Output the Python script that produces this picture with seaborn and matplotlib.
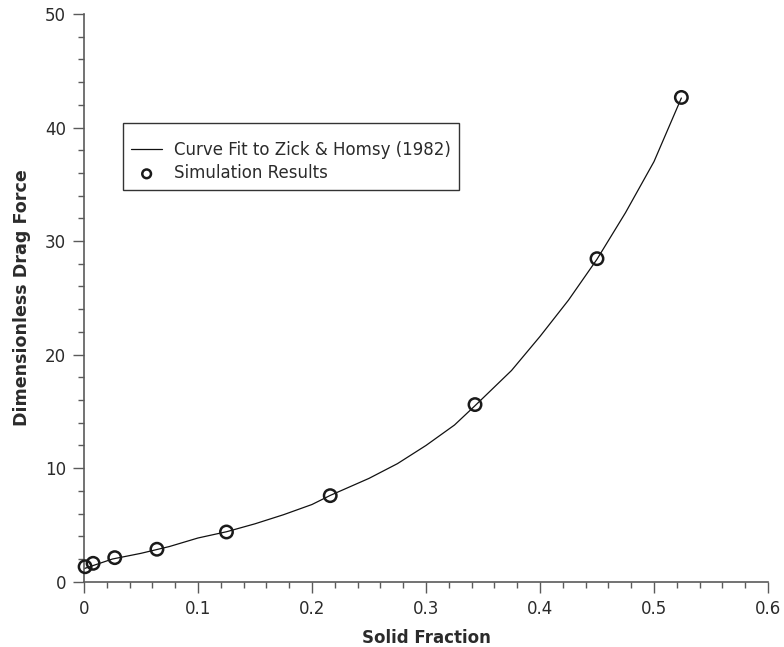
import matplotlib
matplotlib.use("Agg")
import matplotlib.pyplot as plt
from matplotlib.ticker import MultipleLocator
import seaborn as sns
import pandas as pd

# Simulated drag force on a simple cubic array of spheres
sim_fraction = [0.001, 0.008, 0.027, 0.064, 0.125, 0.216, 0.343, 0.45, 0.524]
sim_drag = [1.32, 1.62, 2.12, 2.86, 4.38, 7.58, 15.6, 28.45, 42.65]

# Curve fit to Zick & Homsy (1982), tabulated
fit_fraction = [0.0, 0.025, 0.05, 0.075, 0.1, 0.125, 0.15, 0.175, 0.2, 0.216,
                0.25, 0.275, 0.3, 0.325, 0.343, 0.375, 0.4, 0.425, 0.45,
                0.475, 0.5, 0.524]
fit_drag = [1.15, 2.0, 2.5, 3.1, 3.85, 4.4, 5.1, 5.9, 6.8, 7.6,
            9.1, 10.4, 12.0, 13.8, 15.5, 18.6, 21.6, 24.8, 28.4,
            32.5, 37.0, 42.6]

x_ticks = [0, 0.1, 0.2, 0.3, 0.4, 0.5, 0.6]
x_tick_labels = ["0", "0.1", "0.2", "0.3", "0.4", "0.5", "0.6"]
y_ticks = [0, 10, 20, 30, 40, 50]
y_tick_labels = ["0", "10", "20", "30", "40", "50"]

fit = pd.DataFrame({"phi": fit_fraction, "drag": fit_drag})
sim = pd.DataFrame({"phi": sim_fraction, "drag": sim_drag})

sns.set_style("ticks")
plt.rcParams["font.family"] = ["DejaVu Sans"]
text_color = "#2b2b2b"
axis_color = "#5a5a5a"

fig = plt.figure(figsize=(7.84, 6.47), dpi=100)
ax = fig.add_axes([0.1071, 0.1009, 0.8725, 0.8775])

sns.lineplot(data=fit, x="phi", y="drag", ax=ax, color="#111111", linewidth=0.9,
             label="Curve Fit to Zick & Homsy (1982)", zorder=2)
sns.scatterplot(data=sim, x="phi", y="drag", ax=ax, marker="o", s=80,
                facecolor="none", edgecolor="#1a1a1a", linewidth=1.8,
                label="Simulation Results", zorder=3, clip_on=False)

ax.set_xlim(0, 0.6)
ax.set_ylim(0, 50)
ax.set_xticks(x_ticks)
ax.set_xticklabels(x_tick_labels)
ax.set_yticks(y_ticks)
ax.set_yticklabels(y_tick_labels)
ax.xaxis.set_minor_locator(MultipleLocator(0.02))
ax.yaxis.set_minor_locator(MultipleLocator(2))

ax.tick_params(which="major", direction="out", length=8, width=1.0,
               color=axis_color, labelsize=12, labelcolor=text_color, pad=5)
ax.tick_params(which="minor", direction="out", length=4.5, width=1.0,
               color=axis_color)
for side in ("top", "right"):
    ax.spines[side].set_visible(False)
for side in ("left", "bottom"):
    ax.spines[side].set_color(axis_color)
    ax.spines[side].set_linewidth(1.2)

ax.set_xlabel("Solid Fraction", fontsize=12, fontweight="bold",
              color=text_color, labelpad=8)
ax.set_ylabel("Dimensionless Drag Force", fontsize=12.6, fontweight="bold",
              color=text_color, labelpad=10)

leg = ax.legend(loc="upper left", bbox_to_anchor=(0.0575, 0.8085),
                borderaxespad=0, fontsize=12, frameon=True, fancybox=False,
                shadow=False, borderpad=0.45, handlelength=1.9,
                handletextpad=0.7, labelspacing=0.3, markerscale=0.7,
                title=" ", title_fontsize=5)
leg.get_frame().set_edgecolor("#333333")
leg.get_frame().set_linewidth(1.0)
leg.get_frame().set_alpha(1)
for t in leg.get_texts():
    t.set_color(text_color)

fig.savefig("out.png", dpi=100)
